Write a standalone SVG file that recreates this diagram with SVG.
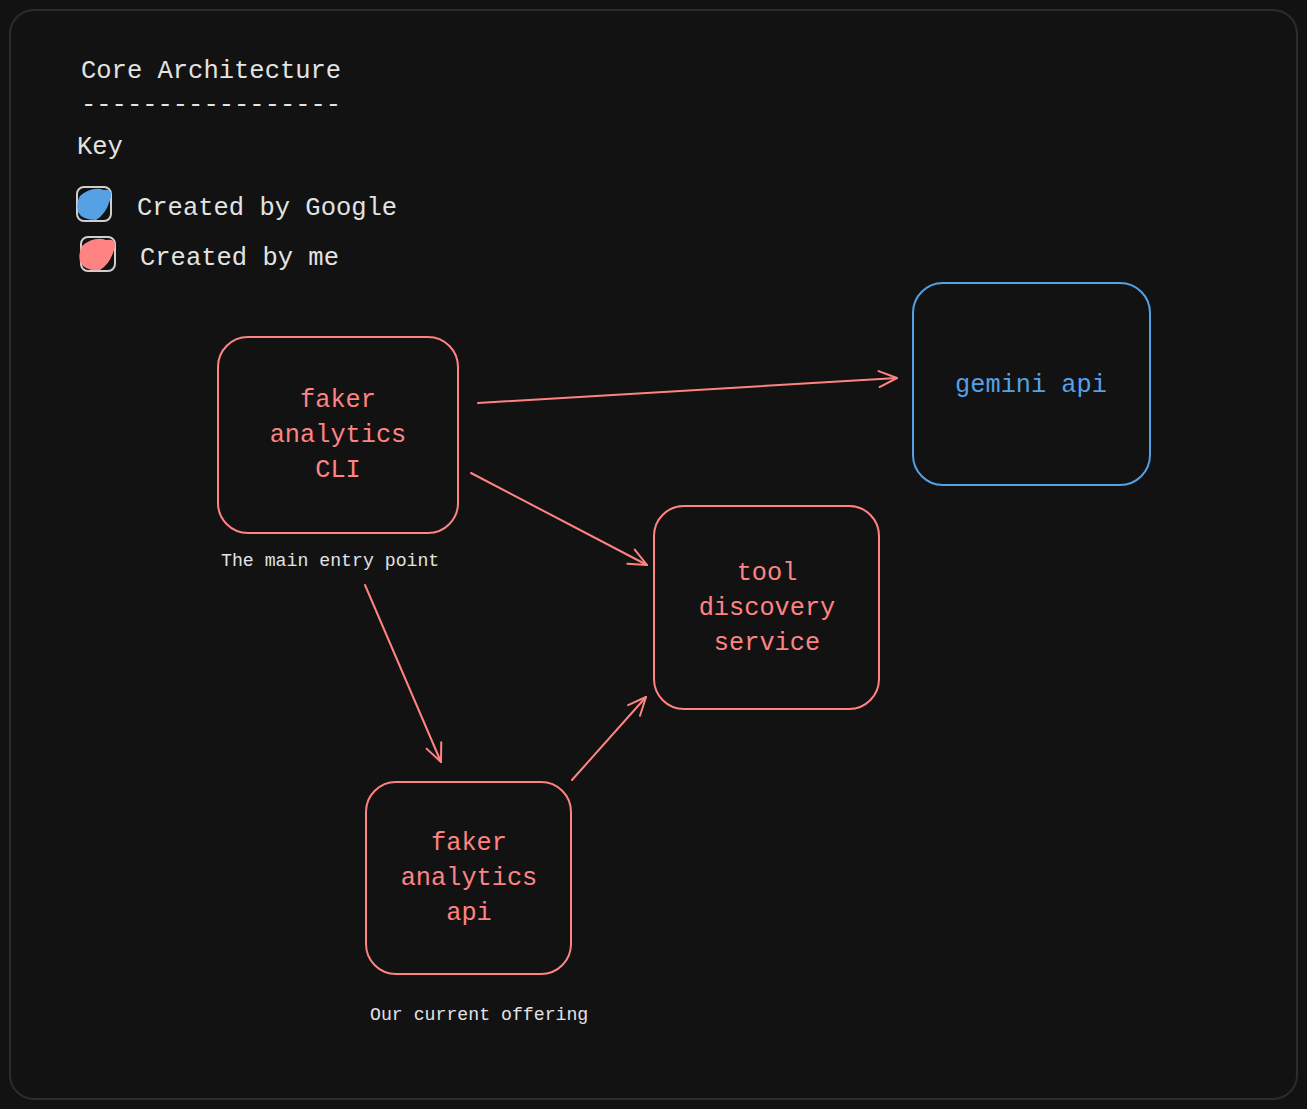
<svg xmlns="http://www.w3.org/2000/svg" width="1307" height="1109" viewBox="0 0 1307 1109">
<defs>
<style>
.t{font-family:"Liberation Mono","DejaVu Sans Mono",monospace;font-size:25.5px;fill:#e3e3e3}
.s{font-family:"Liberation Mono","DejaVu Sans Mono",monospace;font-size:18.2px;fill:#e3e3e3}
.red{fill:#ff8383;font-family:"Liberation Mono","DejaVu Sans Mono",monospace;font-size:25.3px;text-anchor:middle}
.blue{fill:#55a1e4;font-family:"Liberation Mono","DejaVu Sans Mono",monospace;font-size:25.3px;text-anchor:middle}
.rb{fill:none;stroke:#ff8383;stroke-width:2}
.bb{fill:none;stroke:#55a1e4;stroke-width:2}
.conn{fill:none;stroke:#ff8383;stroke-width:2;stroke-linecap:round}
</style>
<marker id="ah" markerWidth="24" markerHeight="24" refX="20" refY="12" orient="auto" markerUnits="userSpaceOnUse">
<path d="M2,4 L20,12 L2,20" fill="none" stroke="#ff8383" stroke-width="2" stroke-linecap="round" stroke-linejoin="round"/>
</marker>
</defs>
<rect width="1307" height="1109" fill="#121212"/>
<rect x="10" y="10" width="1287" height="1089" rx="24" fill="#121212" stroke="#2c2c2c" stroke-width="2"/>

<g id="legend">
<text class="t" x="81" y="78">Core Architecture</text>
<text class="t" x="81" y="112">-----------------</text>
<text class="t" x="77" y="154">Key</text>
<rect x="77" y="187" width="34" height="34" rx="7" fill="none" stroke="#cfcfcf" stroke-width="2"/>
<path d="M80,196 Q92,186 104,190 Q114,188 110,200 Q106,214 96,220 Q82,220 78,212 Q76,202 80,196 Z" fill="#55a1e4"/>
<text class="t" x="137" y="215">Created by Google</text>
<rect x="81" y="237" width="34" height="34" rx="7" fill="none" stroke="#cfcfcf" stroke-width="2"/>
<path d="M82,246 Q94,236 106,240 Q118,238 114,250 Q110,264 100,270 Q86,272 80,262 Q78,252 82,246 Z" fill="#ff8383"/>
<text class="t" x="140" y="265">Created by me</text>
</g>

<g id="node-cli">
<rect class="rb" x="218" y="337" width="240" height="196" rx="30"/>
<text class="red" x="338" y="407">faker</text>
<text class="red" x="338" y="442">analytics</text>
<text class="red" x="338" y="477">CLI</text>
</g>
<text class="s" x="221" y="566">The main entry point</text>

<g id="node-gemini">
<rect class="bb" x="913" y="283" width="237" height="202" rx="30"/>
<text class="blue" x="1031" y="392">gemini api</text>
</g>

<g id="node-tool">
<rect class="rb" x="654" y="506" width="225" height="203" rx="30"/>
<text class="red" x="767" y="580">tool</text>
<text class="red" x="767" y="615">discovery</text>
<text class="red" x="767" y="650">service</text>
</g>

<g id="node-api">
<rect class="rb" x="366" y="782" width="205" height="192" rx="30"/>
<text class="red" x="469" y="850">faker</text>
<text class="red" x="469" y="885">analytics</text>
<text class="red" x="469" y="920">api</text>
</g>
<text class="s" x="370" y="1020">Our current offering</text>

<g id="connectors">
<path class="conn" d="M478,403 L897,378" marker-end="url(#ah)"/>
<path class="conn" d="M471,473 L647,565" marker-end="url(#ah)"/>
<path class="conn" d="M365,585 L441,762" marker-end="url(#ah)"/>
<path class="conn" d="M572,780 L646,697" marker-end="url(#ah)"/>
</g>
</svg>
